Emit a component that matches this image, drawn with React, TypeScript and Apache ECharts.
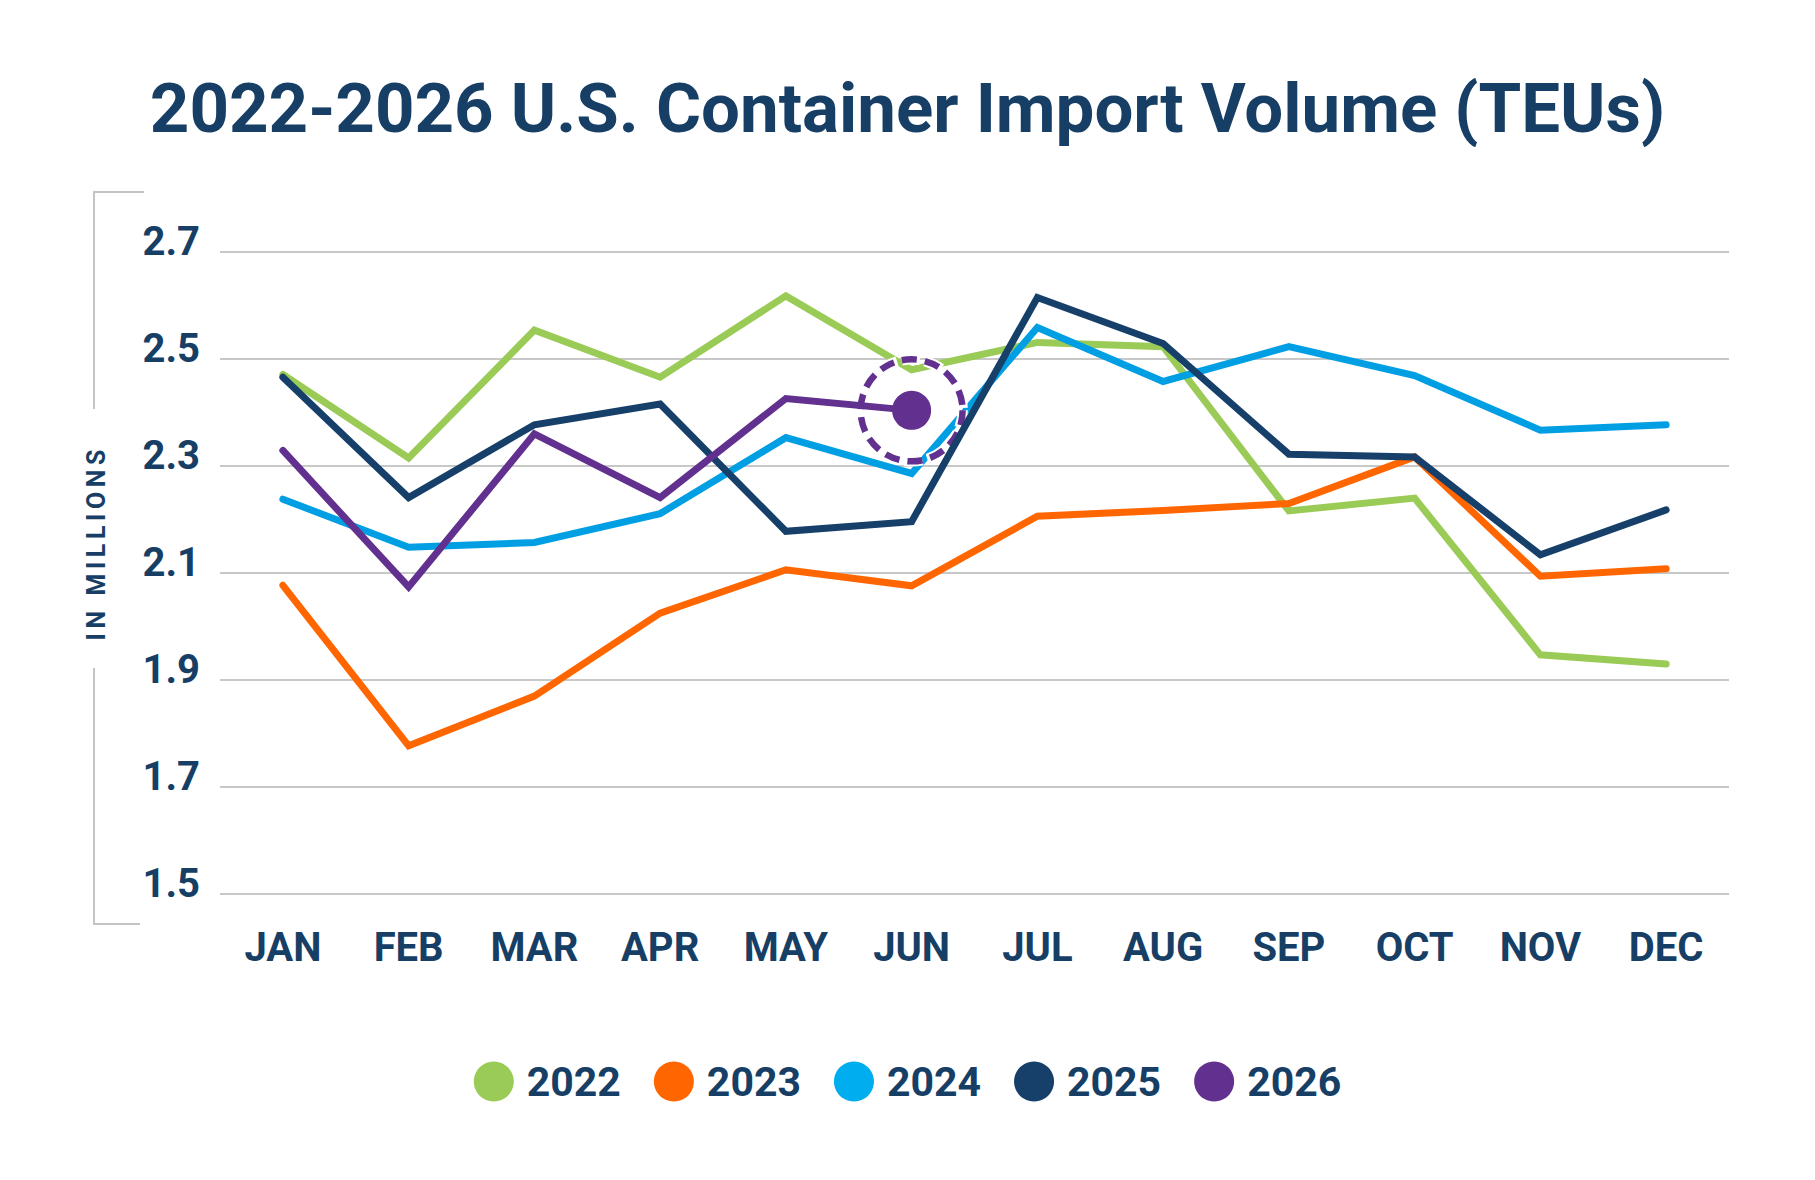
import React, { useEffect, useRef } from "react";
import * as echarts from "echarts";

// ---- data ----
const months = ["JAN", "FEB", "MAR", "APR", "MAY", "JUN", "JUL", "AUG", "SEP", "OCT", "NOV", "DEC"];
const seriesNames = ["2022", "2023", "2024", "2025", "2026"];
const y2022 = [2.471, 2.315, 2.554, 2.466, 2.618, 2.48, 2.531, 2.523, 2.216, 2.24, 1.947, 1.93];
const y2023 = [2.077, 1.777, 1.87, 2.025, 2.106, 2.076, 2.206, 2.217, 2.23, 2.317, 2.094, 2.108];
const y2024 = [2.238, 2.148, 2.157, 2.211, 2.353, 2.286, 2.559, 2.458, 2.523, 2.469, 2.367, 2.377];
const y2025 = [2.466, 2.241, 2.377, 2.416, 2.178, 2.196, 2.615, 2.529, 2.322, 2.317, 2.134, 2.218];
const y2026 = [2.329, 2.074, 2.36, 2.241, 2.426, 2.404];
const yMin = 1.5;
const yMax = 2.7;
const yStep = 0.2;
const titleText = "2022-2026 U.S. Container Import Volume (TEUs)";
const yAxisTitle = "IN MILLIONS";

// ---- styles ----
const NAVY_TEXT = "#173F66";
const lineColors = ["#9BCB57", "#FF6600", "#009FE3", "#16406A", "#62308F"];
const legendColors = ["#9BCB57", "#FF6600", "#00AEEF", "#16406A", "#62308F"];
const FONT = "Roboto, 'Noto Sans', sans-serif";

export default function App() {
  const ref = useRef<HTMLDivElement>(null);

  useEffect(() => {
    if (!ref.current) return;
    const chart = echarts.init(ref.current, undefined, { renderer: "svg" });
    const all = [y2022, y2023, y2024, y2025, y2026];
    const lastIdx = y2026.length - 1;
    const lastVal = y2026[lastIdx];

    const series: any[] = all.map((d, i) => ({
      type: "line",
      name: seriesNames[i],
      data: d,
      symbol: "none",
      silent: true,
      z: 2 + i,
      lineStyle: { color: lineColors[i], width: 7, cap: "round", join: "miter" },
      itemStyle: { color: legendColors[i] },
    }));

    series[4].markPoint = {
      silent: true,
      symbol: "circle",
      label: { show: false },
      data: [
        {
          coord: [lastIdx, lastVal],
          symbolSize: 102,
          itemStyle: {
            color: "rgba(0,0,0,0)",
            borderColor: "#ffffff",
            borderWidth: 10.5,
            borderType: [18, 5],
            borderDashOffset: 1.5,
          },
        },
        {
          coord: [lastIdx, lastVal],
          symbolSize: 102,
          itemStyle: {
            color: "rgba(0,0,0,0)",
            borderColor: lineColors[4],
            borderWidth: 6.5,
            borderType: [15, 8],
          },
        },
        {
          coord: [lastIdx, lastVal],
          symbolSize: 39,
          itemStyle: { color: lineColors[4], borderWidth: 0 },
        },
      ],
    };

    chart.setOption({
      animation: false,
      backgroundColor: "#ffffff",
      grid: { left: 220, right: 86, top: 252, bottom: 286 },
      xAxis: {
        type: "category",
        data: months,
        boundaryGap: true,
        axisLine: { show: false },
        axisTick: { show: false },
        axisLabel: {
          color: NAVY_TEXT,
          fontFamily: FONT,
          fontWeight: "bold",
          fontSize: 40,
          margin: 33,
        },
      },
      yAxis: {
        type: "value",
        min: yMin,
        max: yMax,
        interval: yStep,
        axisLine: { show: false },
        axisTick: { show: false },
        splitLine: { lineStyle: { color: "#C8C8C8", width: 2 } },
        axisLabel: {
          color: NAVY_TEXT,
          fontFamily: FONT,
          fontWeight: "bold",
          fontSize: 40,
          margin: 20,
          lineHeight: 22,
          verticalAlign: "bottom",
          formatter: (v: number) => v.toFixed(1),
        },
      },
      legend: {
        data: seriesNames,
        top: 1056,
        left: "center",
        icon: "circle",
        itemWidth: 40,
        itemHeight: 40,
        itemGap: 33,
        selectedMode: false,
        itemStyle: { borderWidth: 0 },
        textStyle: {
          color: NAVY_TEXT,
          fontFamily: FONT,
          fontWeight: "bold",
          fontSize: 41,
          padding: [0, 0, 0, 8],
        },
      },
      graphic: [
        {
          type: "text",
          x: 907.5,
          y: 108,
          silent: true,
          style: {
            text: titleText,
            fill: NAVY_TEXT,
            fontFamily: FONT,
            fontWeight: "bold",
            fontSize: 69,
            align: "center",
            verticalAlign: "middle",
          },
        },
        {
          type: "polyline",
          silent: true,
          shape: { points: [[144, 192], [94, 192], [94, 409]] },
          style: { stroke: "#C4C4C4", lineWidth: 2, fill: null },
        },
        {
          type: "polyline",
          silent: true,
          shape: { points: [[94, 668], [94, 924], [140, 924]] },
          style: { stroke: "#C4C4C4", lineWidth: 2, fill: null },
        },
      ],
      series,
    });

    return () => chart.dispose();
  }, []);

  return (
    <div style={{ position: "fixed", left: 0, top: 0, width: 1815, height: 1180, background: "#fff" }}>
      <div ref={ref} style={{ position: "absolute", left: 0, top: 0, width: 1815, height: 1180 }} />
      <div
        style={{
          position: "absolute",
          left: 96,
          top: 545,
          transform: "translate(-50%, -50%) rotate(-90deg)",
          fontFamily: FONT,
          fontWeight: 700,
          fontSize: 25,
          letterSpacing: "4.6px",
          paddingLeft: "4.6px",
          color: NAVY_TEXT,
          whiteSpace: "nowrap",
          lineHeight: 1,
        }}
      >
        {yAxisTitle}
      </div>
    </div>
  );
}
